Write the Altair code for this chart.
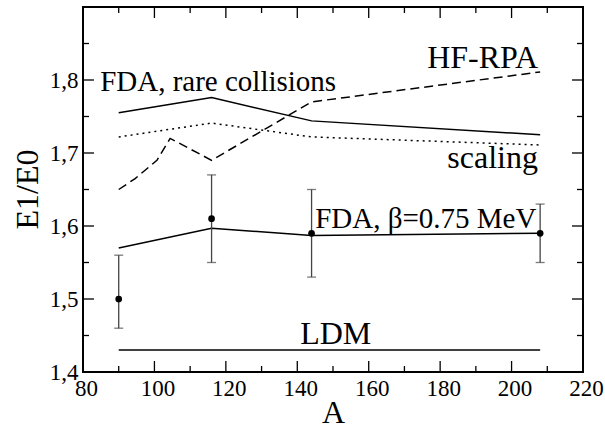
import altair as alt
import pandas as pd

# ---- data ----
A = [90, 116, 144, 208]
fda_rare = [1.755, 1.776, 1.744, 1.725]
scaling = [1.722, 1.741, 1.722, 1.711]
fda_beta = [1.570, 1.597, 1.587, 1.590]
hf_A = [90, 94.6, 100.7, 104.4, 116, 144, 208]
hf_rpa = [1.650, 1.665, 1.690, 1.720, 1.690, 1.770, 1.811]
exp_val = [1.50, 1.61, 1.59, 1.59]
exp_lo = [1.46, 1.55, 1.53, 1.55]
exp_hi = [1.56, 1.67, 1.65, 1.63]
ldm_A = [90, 208]
ldm = [1.43, 1.43]

x_major = [80, 100, 120, 140, 160, 180, 200, 220]
x_minor = [90, 110, 130, 150, 170, 190, 210]
y_major = [1.4, 1.5, 1.6, 1.7, 1.8, 1.9]
y_minor = [1.45, 1.55, 1.65, 1.75, 1.85]
y_labels = [1.4, 1.5, 1.6, 1.7, 1.8]

labels = ["FDA, rare collisions", "HF-RPA", "scaling", "FDA, β=0.75 MeV", "LDM"]
label_A = [84.8, 207.4, 207.4, 145.0, 140.8]
label_v = [1.785, 1.816, 1.680, 1.5975, 1.438]
label_align = ["left", "right", "right", "left", "left"]
label_size = [29, 32, 32, 29, 32]

SERIF = "Liberation Serif"
W, H = 500, 365

xs = alt.Scale(domain=[80, 220], nice=False, zero=False)
ys = alt.Scale(domain=[1.4, 1.9], nice=False, zero=False)

x_axis = alt.Axis(
    title="A", values=x_major, ticks=False, domain=False, grid=False,
    labelFont=SERIF, labelFontSize=23, labelColor="black", labelPadding=5,
    labelOffset=3, labelFlush=False, labelOverlap=False,
    titleFont=SERIF, titleFontSize=32, titleFontWeight="normal", titleColor="black",
    titleX=250, titleY=50, titleBaseline="alphabetic", titleAlign="center",
)
y_axis = alt.Axis(
    title="E1/E0", values=y_labels, ticks=False, domain=False, grid=False,
    labelExpr="replace(format(datum.value, '.1f'), '.', ',')",
    labelFont=SERIF, labelFontSize=23, labelColor="black", labelPadding=5,
    labelFlush=False, labelOverlap=False,
    titleFont=SERIF, titleFontSize=32, titleFontWeight="normal", titleColor="black",
    titleX=-46, titleY=182, titleAngle=270, titleBaseline="alphabetic", titleAlign="center",
)

def X(field="A"):
    return alt.X(f"{field}:Q", scale=xs, axis=x_axis)

def Y(field="v"):
    return alt.Y(f"{field}:Q", scale=ys, axis=y_axis)

lines_df = pd.concat([
    pd.DataFrame({"A": A, "v": fda_rare, "s": "rare"}),
    pd.DataFrame({"A": A, "v": scaling, "s": "scaling"}),
    pd.DataFrame({"A": A, "v": fda_beta, "s": "beta"}),
    pd.DataFrame({"A": hf_A, "v": hf_rpa, "s": "hf"}),
    pd.DataFrame({"A": ldm_A, "v": ldm, "s": "ldm"}),
])

def line(name, dash=None):
    kw = dict(color="black", strokeWidth=1.5)
    if dash:
        kw["strokeDash"] = dash
    return alt.Chart(lines_df[lines_df.s == name]).mark_line(**kw).encode(x=X(), y=Y())

exp_df = pd.DataFrame({"A": A, "v": exp_val, "lo": exp_lo, "hi": exp_hi})

err = alt.Chart(exp_df).mark_rule(color="#444", strokeWidth=1.3).encode(
    x=X(), y=Y("lo"), y2="hi:Q")
cap_lo = alt.Chart(exp_df).mark_tick(orient="horizontal", size=9, thickness=1.3, color="#444").encode(
    x=X(), y=Y("lo"))
cap_hi = alt.Chart(exp_df).mark_tick(orient="horizontal", size=9, thickness=1.3, color="#444").encode(
    x=X(), y=Y("hi"))
pts = alt.Chart(exp_df).mark_circle(size=45, color="black", opacity=1).encode(x=X(), y=Y())

# inward ticks on all four sides
xM = pd.DataFrame({"A": x_major})
xm = pd.DataFrame({"A": x_minor})
yM = pd.DataFrame({"v": y_major})
ym = pd.DataFrame({"v": y_minor})

def xticks(df, length):
    bot = alt.Chart(df).mark_rule(color="black", strokeWidth=1.3).encode(
        x=X(), y=alt.value(H), y2=alt.value(H - length))
    top = alt.Chart(df).mark_rule(color="black", strokeWidth=1.3).encode(
        x=X(), y=alt.value(0), y2=alt.value(length))
    return [bot, top]

def yticks(df, length):
    left = alt.Chart(df).mark_rule(color="black", strokeWidth=1.3).encode(
        y=Y(), x=alt.value(0), x2=alt.value(length))
    right = alt.Chart(df).mark_rule(color="black", strokeWidth=1.3).encode(
        y=Y(), x=alt.value(W), x2=alt.value(W - length))
    return [left, right]

texts = []
for i in range(len(labels)):
    tdf = pd.DataFrame({"A": [label_A[i]], "v": [label_v[i]], "label": [labels[i]]})
    texts.append(
        alt.Chart(tdf).mark_text(
            align=label_align[i], baseline="alphabetic", font=SERIF,
            fontSize=label_size[i], color="black",
        ).encode(x=X(), y=Y(), text="label:N")
    )

layers = [
    line("rare"), line("scaling", [2, 4]), line("hf", [9, 5]), line("beta"), line("ldm"),
    err, cap_lo, cap_hi, pts,
    *xticks(xM, 11), *xticks(xm, 6), *yticks(yM, 11), *yticks(ym, 6),
    *texts,
]

chart = alt.layer(*layers).properties(
    width=W, height=H,
    padding={"left": 83, "top": 7, "right": 22, "bottom": 56},
    autosize=alt.AutoSizeParams(type="none"),
    background="white",
).configure_view(stroke="black", strokeWidth=2)

chart.save("out.html", embed_options={"renderer": "svg", "actions": False})
